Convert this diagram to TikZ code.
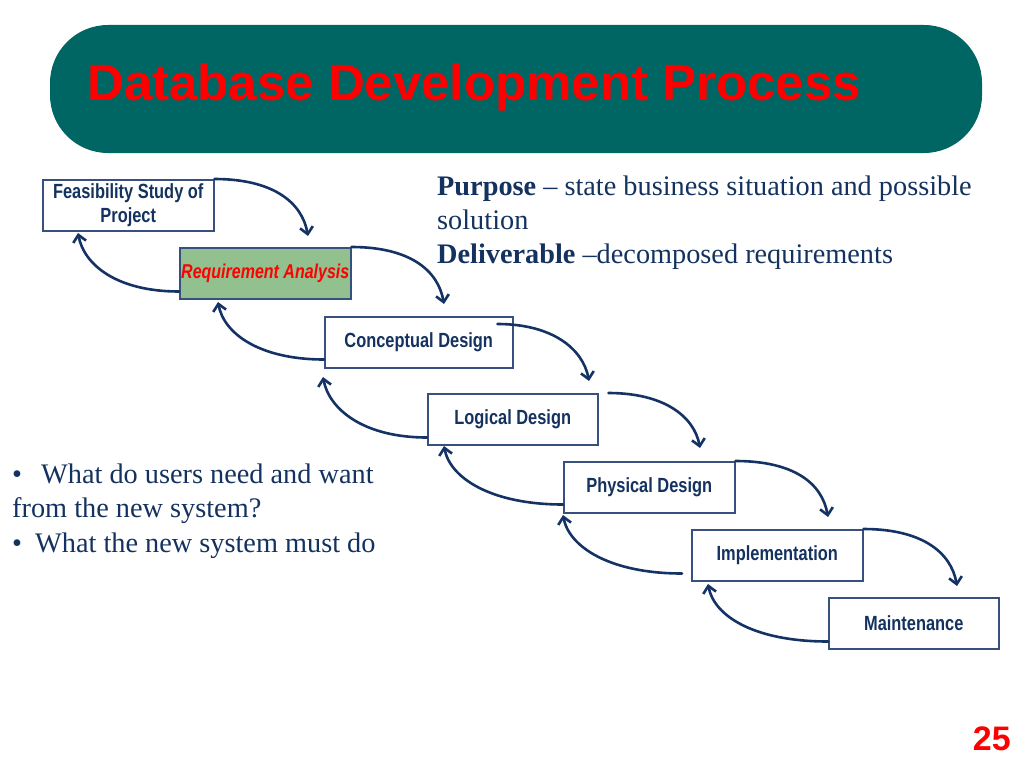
\documentclass[tikz,border=0pt]{standalone}
\usepackage{fontspec}
\setmainfont{Liberation Serif}
\newfontfamily\arialf{Liberation Sans}
\newfontfamily\narrowf[FakeStretch=0.8]{Liberation Sans}
\usetikzlibrary{arrows.meta,calc}
\definecolor{titlebg}{RGB}{0,102,100}
\definecolor{navytext}{RGB}{20,50,95}
\definecolor{boxline}{RGB}{55,80,125}
\definecolor{arrowc}{RGB}{20,50,100}
\definecolor{reqfill}{RGB}{146,192,142}
\tikzset{
  stepbox/.style={draw=boxline, line width=1.5pt, fill=white, minimum width=171pt,
    minimum height=51pt, anchor=north west, inner sep=0pt, align=center,
    text=navytext, font=\narrowf\bfseries\fontsize{20.5}{24}\selectfont},
  flow/.style={draw=arrowc, line width=2.6pt, line cap=round,
    -{Straight Barb[length=7pt,width=13pt,line width=2.6pt]}},
  bodytext/.style={anchor=base west, inner sep=0pt, text=navytext,
    font=\fontsize{28.3}{34}\selectfont}
}
\begin{document}
\begin{tikzpicture}[x=1pt,y=-1pt]
\useasboundingbox (0,0) rectangle (1024,768);
% title
\fill[titlebg, rounded corners=58pt] (50,25) rectangle (982,153);
\node[anchor=base west, inner sep=0pt, text=red, font=\arialf\bfseries\fontsize{51}{55}\selectfont] (title) at (87,100) {Database Development Process};

% boxes
\node[stepbox] (feas) at (42,179) {Feasibility Study of\\Project};
\node[stepbox, fill=reqfill, text=red, font=\narrowf\bfseries\itshape\fontsize{20}{24}\selectfont] (req) at (179,247) {Requirement Analysis};
\node[stepbox, minimum width=188pt] (conc) at (324,316) {Conceptual Design};
\node[stepbox, minimum width=170pt] (logi) at (427,393) {Logical Design};
\node[stepbox] (phys) at (563,461) {Physical Design};
\node[stepbox] (impl) at (691,529) {Implementation};
\node[stepbox, minimum width=170pt] (maint) at (828,597) {Maintenance};

% forward arrow ends
\coordinate (t1) at (308,236);
\coordinate (t2) at (444,304);
\coordinate (s3) at ($(conc.north east)+(-16,8)$);
\coordinate (t3) at (589,381);
\coordinate (s4) at ($(logi.north east)+(10,0)$);
\coordinate (t4) at (700,448);
\coordinate (t5) at (828,517);
\coordinate (t6) at (957,586);

\draw[flow] (feas.north east) .. controls +(58,0) and +(-6,-34) .. (t1);
\draw[flow] (req.north east) .. controls +(58,0) and +(-6,-34) .. (t2);
\draw[flow] (s3) .. controls +(55,0) and +(-6,-32) .. (t3);
\draw[flow] (s4) .. controls +(55,0) and +(-6,-32) .. (t4);
\draw[flow] (phys.north east) .. controls +(58,0) and +(-6,-34) .. (t5);
\draw[flow] (impl.north east) .. controls +(58,0) and +(-6,-34) .. (t6);

% backward arrows
\coordinate (b1s) at ($(req.south west)+(0,-8)$);
\coordinate (b1t) at (78,233);
\coordinate (b2s) at ($(conc.south west)+(0,-9)$);
\coordinate (b2t) at (218,302);
\coordinate (b3s) at ($(logi.south west)+(0,-8)$);
\coordinate (b3t) at (323,377);
\coordinate (b4s) at ($(phys.south west)+(0,-9)$);
\coordinate (b4t) at (444,446);
\coordinate (b5s) at ($(impl.south west)+(-9,-8)$);
\coordinate (b5t) at (563,515);
\coordinate (b6s) at ($(maint.south west)+(0,-8)$);
\coordinate (b6t) at (708,584);

\draw[flow] (b1s) .. controls +(-62,0) and +(6,32) .. (b1t);
\draw[flow] (b2s) .. controls +(-64,0) and +(6,32) .. (b2t);
\draw[flow] (b3s) .. controls +(-64,0) and +(6,32) .. (b3t);
\draw[flow] (b4s) .. controls +(-72,0) and +(6,32) .. (b4t);
\draw[flow] (b5s) .. controls +(-72,0) and +(6,32) .. (b5t);
\draw[flow] (b6s) .. controls +(-74,0) and +(6,32) .. (b6t);

% right text
\node[bodytext] (r1) at (437,195) {\textbf{Purpose} – state business situation and possible};
\node[bodytext] (r2) at (437,229) {solution};
\node[bodytext] (r3) at (437,263) {\textbf{Deliverable} –decomposed requirements};

% left text
\node[bodytext] (l1) at (12,483) {\makebox[29pt][l]{•}What do users need and want};
\node[bodytext] (l2) at (12,517) {from the new system?};
\node[bodytext] (l3) at (12,552) {\makebox[23pt][l]{•}What the new system must do};

% page number
\node[anchor=base east, inner sep=0pt, text=red, font=\arialf\bfseries\fontsize{34}{38}\selectfont] (num) at (1011,750) {25};
\end{tikzpicture}
\end{document}
